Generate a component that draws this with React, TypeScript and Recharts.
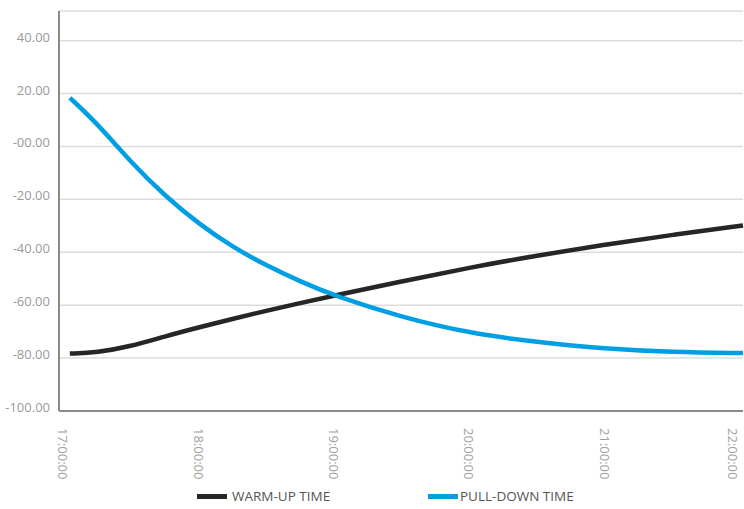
import { LineChart, Line, XAxis, YAxis, CartesianGrid, Legend } from "recharts";

// time in hours of the day
const hours = [17.05, 17.25, 17.5, 17.75, 18, 18.25, 18.5, 18.75, 19, 19.5, 20, 20.5, 21, 21.5, 22.02];
const warmUp = [-78.3, -77.9, -75.6, -71.8, -68.4, -65.2, -62.1, -59.2, -56.4, -51.0, -45.8, -41.2, -37.1, -33.4, -29.9];
const pullDown = [18.4, 8.8, -5.9, -18.6, -29.2, -38.0, -45.0, -51.0, -56.4, -64.6, -70.6, -74.0, -76.5, -77.8, -78.1];

const xTicks = [17, 18, 19, 20, 21, 22];
const yTicks = [-100, -80, -60, -40, -20, 0, 20, 40];

const series = [
  { key: "warmUp", name: "WARM-UP TIME", color: "#272525" },
  { key: "pullDown", name: "PULL-DOWN TIME", color: "#009fe3" },
];

const data = hours.map((h, i) => ({ h, warmUp: warmUp[i], pullDown: pullDown[i] }));

const FONT = "'Open Sans', sans-serif";

const fmtY = (v: number) => (v === 0 ? "-00.00" : v.toFixed(2));
const fmtX = (v: number) => `${Math.round(v)}:00:00`;

function XTick(props: any) {
  const { x, y, payload } = props;
  // last label sits on the right edge, nudge it in so it stays readable
  const cx = payload.value === 22 ? x - 7 : x;
  return (
    <text
      transform={`translate(${cx},${y + 9}) rotate(90)`}
      textAnchor="start"
      dominantBaseline="central"
      fill="#a0a0a0"
      fontSize={13}
      fontFamily={FONT}
    >
      {fmtX(payload.value)}
    </text>
  );
}

function YTick(props: any) {
  const { x, y, payload } = props;
  return (
    <text x={x - 1} y={y - 4} textAnchor="end" dominantBaseline="central" fill="#9a9a9a" fontSize={13} fontFamily={FONT}>
      {fmtY(payload.value)}
    </text>
  );
}

function LegendContent() {
  return (
    <div style={{ height: 28, fontFamily: FONT, fontSize: 13.5, color: "#555", position: "relative" }}>
      {series.map((s, i) => (
        <div key={s.key} style={{ position: "absolute", left: i === 0 ? 197 : 428, top: 6, display: "flex", alignItems: "center" }}>
          <span style={{ display: "inline-block", width: 30, height: 5, background: s.color, marginRight: i === 0 ? 5 : 2 }} />
          <span>{s.name}</span>
        </div>
      ))}
    </div>
  );
}

export default function App() {
  return (
    <div style={{ position: "absolute", left: 0, top: 0, background: "#fff" }}>
      <LineChart width={744} height={509} data={data} margin={{ top: 11, right: 1, left: 0, bottom: 0 }}>
        <CartesianGrid vertical={false} stroke="#dcdcdc" strokeWidth={1.5} />
        <XAxis
          dataKey="h"
          type="number"
          domain={[16.97, 22.02]}
          ticks={xTicks}
          tick={<XTick />}
          tickLine={false}
          axisLine={{ stroke: "#8a8a8a", strokeWidth: 2 }}
          height={70}
          interval={0}
        />
        <YAxis
          type="number"
          domain={[-100, 51.2]}
          ticks={yTicks}
          tick={<YTick />}
          tickLine={false}
          axisLine={{ stroke: "#8a8a8a", strokeWidth: 2 }}
          width={59}
          interval={0}
        />
        <Legend verticalAlign="bottom" content={<LegendContent />} wrapperStyle={{ height: 28 }} />
        {series.map((s) => (
          <Line
            key={s.key}
            dataKey={s.key}
            name={s.name}
            type="basis"
            stroke={s.color}
            strokeWidth={4.5}
            dot={false}
            isAnimationActive={false}
          />
        ))}
      </LineChart>
    </div>
  );
}
